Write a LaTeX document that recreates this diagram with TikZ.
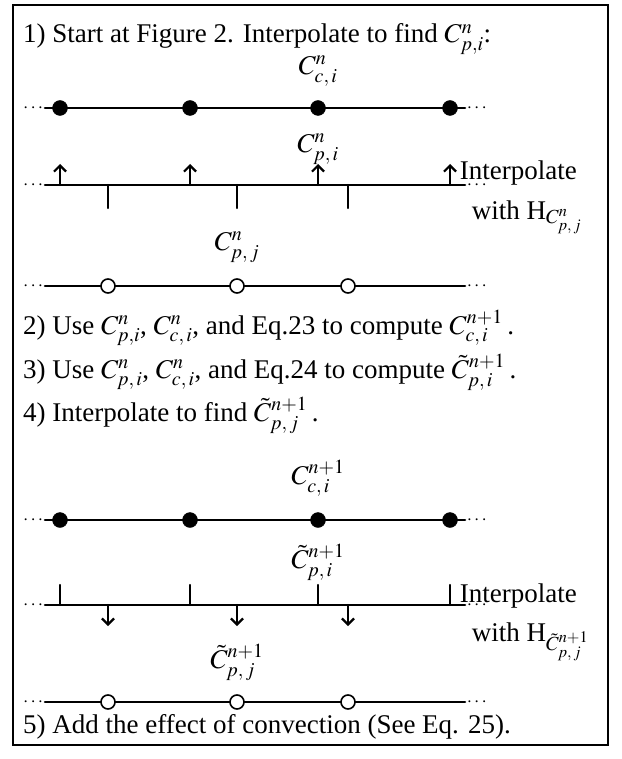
\documentclass[tikz,border=0pt]{standalone}
\usepackage{mathptmx}
\usepackage{fontspec}
\setmainfont{Liberation Serif}
\usetikzlibrary{arrows,arrows.meta,calc}
\usepackage{tkz-euclide}

\begin{document}
\begin{tikzpicture}[x=1pt,y=-1pt,font=\fontsize{27}{32}\selectfont]
\tkzSetUpLine[line width=2.6pt,color=black]
\tkzSetUpPoint[fill=black]
\useasboundingbox (0,0) rectangle (621,759);
\draw[line width=1.3pt] (13,5) rectangle (608,745);

% rows of grid points
\tkzDefPoints{45/108/La,465/108/Ra,60/108/A1,190/108/A2,318/108/A3,450/108/A4}
\tkzDefPoints{45/185/Lb,465/185/Rb,60/185/B1,190/185/B2,318/185/B3,450/185/B4}
\tkzDefPoints{60/164/U1,190/164/U2,318/164/U3,450/164/U4}
\tkzDefPoints{108/185/T1,237/185/T2,348/185/T3,108/208/V1,237/208/V2,348/208/V3}
\tkzDefPoints{45/286/Lc,465/286/Rc,108/286/O1,237/286/O2,348/286/O3}
\tkzDefPoints{45/520/Ld,465/520/Rd,60/520/D1,190/520/D2,318/520/D3,450/520/D4}
\tkzDefPoints{45/605/Le,465/605/Re,60/605/E1,190/605/E2,318/605/E3,450/605/E4}
\tkzDefPoints{60/585/W1,190/585/W2,318/585/W3,450/585/W4}
\tkzDefPoints{108/605/F1,237/605/F2,348/605/F3,108/626/X1,237/626/X2,348/626/X3}
\tkzDefPoints{45/702/Lf,465/702/Rf,108/702/G1,237/702/G2,348/702/G3}

\tkzDrawSegments(La,Ra Lb,Rb Lc,Rc Ld,Rd Le,Re Lf,Rf)
\tkzDrawSegments[line width=2.2pt,-{Straight Barb[length=6pt,width=12pt]}](B1,U1 B2,U2 B3,U3 B4,U4 F1,X1 F2,X2 F3,X3)
\tkzDrawSegments[line width=2.2pt](T1,V1 T2,V2 T3,V3 E1,W1 E2,W2 E3,W3 E4,W4)

\tkzDrawPoints[size=15](A1,A2,A3,A4,D1,D2,D3,D4)
\tkzDrawPoints[size=14,fill=white,line width=1.6pt](O1,O2,O3,G1,G2,G3)

% dots at the ends
\foreach \p in {La,Lb,Lc,Ld,Le,Lf}{\node[left,inner sep=1pt,font=\fontsize{19}{20}\selectfont] at (\p) {$\cdots$};}
\foreach \p in {Ra,Rb,Rc,Rd,Re,Rf}{\node[right,inner sep=1pt,font=\fontsize{19}{20}\selectfont] at (\p) {$\cdots$};}

\node[anchor=base west] (st1) at (19,43) {1) Start at Figure 2. Interpolate to find $C^n_{p,i}$:};
\node (cci) at (318,71) {$C^n_{c,\,i}$};
\node (cpi) at (318,149) {$C^n_{p,\,i}$};
\node[anchor=base west,inner sep=1pt] (ip1) at (458,180) {Interpolate};
\node[anchor=base west,inner sep=1pt] (wh1) at (470,219) {with H$_{C^n_{p,\,j}}$};
\node (cpj) at (237,247) {$C^n_{p,\,j}$};

\node[anchor=base west] (st2) at (19,334) {2) Use $C^n_{p,i}$, $C^n_{c,\,i}$, and Eq.23 to compute $C^{n+1}_{c,\,i}$\,.};
\node[anchor=base west] (st3) at (19,378) {3) Use $C^n_{p,\,i}$, $C^n_{c,\,i}$, and Eq.24 to compute $\tilde{C}^{n+1}_{p,\,i}$\,.};
\node[anchor=base west] (st4) at (19,421) {4) Interpolate to find $\tilde{C}^{n+1}_{p,\,j}$\,.};

\node (ccn) at (318,478) {$C^{n+1}_{c,\,i}$};
\node (cpn) at (318,562) {$\tilde{C}^{n+1}_{p,\,i}$};
\node[anchor=base west,inner sep=1pt] (ip2) at (458,602) {Interpolate};
\node[anchor=base west,inner sep=1pt] (wh2) at (470,641) {with H$_{\tilde{C}^{n+1}_{p,\,j}}$};
\node (cpk) at (237,662) {$\tilde{C}^{n+1}_{p,\,j}$};

\node[anchor=base west] (st5) at (19,733) {5) Add the effect of convection (See Eq. 25).};

\end{tikzpicture}
\end{document}
